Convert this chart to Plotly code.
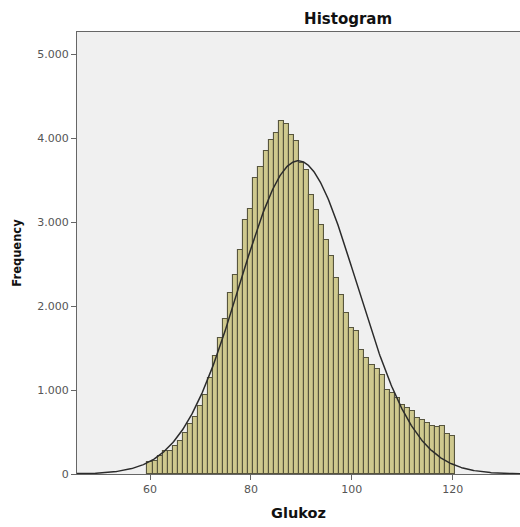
import numpy as np
import plotly.graph_objects as go

# Glukoz values (bin centres, width 1) and their frequencies
glukoz = list(range(60, 121))
frequency = [
    140, 160, 210, 270, 270, 330, 390, 490, 590, 680,        # 60-69
    805, 945, 1140, 1400, 1625, 1840, 2155, 2365, 2670, 3020,  # 70-79
    3155, 3525, 3655, 3850, 3980, 4065, 4200, 4170, 4040, 3960,  # 80-89
    3700, 3620, 3325, 3145, 2970, 2790, 2590, 2335, 2135, 1915,  # 90-99
    1738, 1705, 1480, 1381, 1301, 1250, 1175, 1004, 960, 905,    # 100-109
    820, 786, 755, 666, 646, 607, 567, 555, 575, 480, 448,       # 110-120
]

# fitted normal curve parameters
curve_mean = 89.4
curve_sd = 11.6
bin_width = 1.0

y_tick_vals = [0, 1000, 2000, 3000, 4000, 5000]
y_tick_text = ["0", "1.000", "2.000", "3.000", "4.000", "5.000"]
x_tick_vals = [60, 80, 100, 120]
x_tick_text = ["60", "80", "100", "120"]

n_total = sum(frequency)
xs = np.linspace(40, 140, 600)
ys = n_total * bin_width / (curve_sd * np.sqrt(2 * np.pi)) * np.exp(-0.5 * ((xs - curve_mean) / curve_sd) ** 2)

FONT = "DejaVu Sans, Verdana, sans-serif"

fig = go.Figure()
fig.add_trace(go.Bar(
    x=glukoz, y=frequency, width=bin_width,
    marker=dict(color="#cfc98e", line=dict(color="#57553e", width=1.1)),
    hoverinfo="x+y",
))
fig.add_trace(go.Scatter(
    x=xs, y=ys, mode="lines",
    line=dict(color="#2b2b2b", width=1.5),
    hoverinfo="skip",
))

fig.update_layout(
    width=520, height=527,
    margin=dict(l=77, r=0, t=32, b=53),
    paper_bgcolor="white",
    plot_bgcolor="#f0f0f0",
    showlegend=False,
    bargap=0,
    font=dict(family=FONT, color="#555555", size=11),
    title=dict(
        text="<b>Histogram</b>",
        font=dict(family=FONT, size=15, color="#111111"),
        x=0.612, xref="paper", xanchor="center",
        y=1 - 19 / 527, yref="container", yanchor="middle",
    ),
)
fig.update_xaxes(
    range=[45.53, 133.34],
    tickvals=x_tick_vals, ticktext=x_tick_text,
    ticks="outside", ticklen=5, tickcolor="#666666", tickwidth=1,
    showgrid=False, zeroline=False,
    showline=True, linecolor="#666666", linewidth=1.3, mirror=True,
    title=dict(text="<b>Glukoz</b>", font=dict(family=FONT, size=14.5, color="#111111"), standoff=12),
    tickfont=dict(family=FONT, size=11, color="#555555"),
)
fig.update_yaxes(
    range=[0, 5262],
    tickvals=y_tick_vals, ticktext=y_tick_text,
    ticks="outside", ticklen=5, tickcolor="#666666", tickwidth=1,
    showgrid=False, zeroline=False,
    showline=True, linecolor="#666666", linewidth=1.3,
    title=dict(text="<b>Frequency</b>", font=dict(family=FONT, size=11.5, color="#111111"), standoff=13),
    tickfont=dict(family=FONT, size=11, color="#555555"),
)

fig.write_html("out.html")
